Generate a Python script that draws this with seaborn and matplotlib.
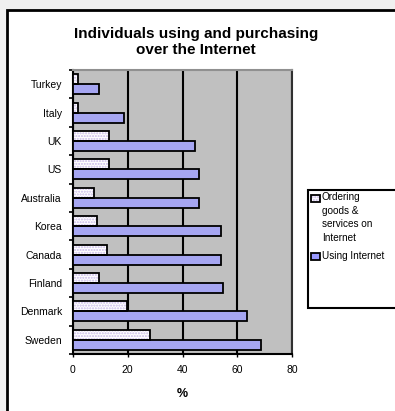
import matplotlib
matplotlib.use("Agg")
import matplotlib.pyplot as plt
from matplotlib.patches import Rectangle
import seaborn as sns
import pandas as pd
import numpy as np

# Survey data: share of individuals (%)
countries = ["Turkey", "Italy", "UK", "US", "Australia", "Korea",
             "Canada", "Finland", "Denmark", "Sweden"]
ordering = [1.8, 1.8, 13.1, 13.1, 7.8, 8.6, 12.5, 9.5, 19.6, 28.2]
using = [9.5, 18.7, 44.5, 46.1, 46.1, 54.0, 54.0, 54.7, 63.5, 68.5]
series = ["Ordering goods & services on Internet", "Using Internet"]
legend_labels = ["Ordering\ngoods &\nservices on\nInternet", "Using Internet"]
x_ticks = [0, 20, 40, 60, 80]

df = pd.DataFrame({
    "country": countries * 2,
    "value": ordering + using,
    "series": [series[0]] * len(countries) + [series[1]] * len(countries),
})

sns.set_theme(style="white")
plt.rcParams["font.family"] = ["Liberation Sans", "DejaVu Sans"]
plt.rcParams.update({"text.color": "black", "axes.labelcolor": "black",
                     "xtick.color": "black", "ytick.color": "black"})

W, H = 395, 411
fig = plt.figure(figsize=(W / 100, H / 100), dpi=100)
fig.patch.set_facecolor("#f0f0f0")

# white chart panel with black border
fig.patches.append(Rectangle((7 / W, -0.2), 1.2, 1 - 10 / H + 0.2,
                             transform=fig.transFigure, facecolor="white",
                             edgecolor="black", linewidth=2.0, zorder=-10))

ax = fig.add_axes([73 / W, 1 - 354 / H, (292 - 73) / W, (354 - 70) / H])
ax.set_zorder(5)
ax.set_facecolor("#c0c0c0")

blue = "#9999ff"
lav = "#c8b8e8"
sns.barplot(data=df, y="country", x="value", hue="series", order=countries,
            hue_order=series, orient="h", width=0.7, dodge=True,
            palette=["white", blue], edgecolor="black", linewidth=1.3,
            legend=False, ax=ax, zorder=3)

# dotted fill for the ordering bars, outline redrawn on top
for p in ax.containers[0]:
    p.set_edgecolor(lav)
    p.set_hatch("......")
    p.set_linewidth(0)
    ax.add_patch(Rectangle(p.get_xy(), p.get_width(), p.get_height(),
                           facecolor="none", edgecolor="black",
                           linewidth=1.3, zorder=4))

ax.set_xlim(0, 80)
ax.set_ylim(len(countries) - 0.5, -0.5)
ax.set_xticks(x_ticks)
ax.set_xticklabels([str(t) for t in x_ticks], fontsize=7.5)
ax.set_axisbelow(True)
ax.xaxis.grid(True, color="black", linewidth=1.5)
ax.yaxis.grid(False)

ax.set_yticks(range(len(countries)))
ax.set_yticklabels(countries, fontsize=7.5)
ax.set_yticks(np.arange(-0.5, len(countries), 1.0), minor=True)
ax.tick_params(axis="y", which="major", length=0, pad=8)
ax.tick_params(axis="y", which="minor", length=3, width=1.2, color="black",
               direction="out", left=True)
ax.tick_params(axis="x", length=2, width=1, color="black", bottom=True, pad=6)

ax.set_ylabel("")
ax.set_xlabel("%", fontsize=9, fontweight="bold", labelpad=9)

for side in ["left", "bottom"]:
    ax.spines[side].set_color("black")
    ax.spines[side].set_linewidth(1.5)
ax.spines["right"].set_color("#303030")
ax.spines["right"].set_linewidth(1.5)
ax.spines["top"].set_color("#909090")
ax.spines["top"].set_linewidth(1.5)

fig.text(196 / W, 1 - 42 / H, "Individuals using and purchasing\nover the Internet",
         ha="center", va="center", fontsize=11, fontweight="bold",
         linespacing=1.25)

# legend box
fig.patches.append(Rectangle((308 / W, 1 - 308 / H), 1.0, 118 / H,
                             transform=fig.transFigure, facecolor="white",
                             edgecolor="black", linewidth=1.5, zorder=1))
fig.patches.append(Rectangle((311 / W, 1 - 202 / H), 9 / W, 7 / H,
                             transform=fig.transFigure, facecolor="white",
                             edgecolor=lav, linewidth=0, hatch="......",
                             zorder=2))
fig.patches.append(Rectangle((311 / W, 1 - 202 / H), 9 / W, 7 / H,
                             transform=fig.transFigure, facecolor="none",
                             edgecolor="black", linewidth=1.3, zorder=3))
fig.patches.append(Rectangle((311 / W, 1 - 260 / H), 9 / W, 7 / H,
                             transform=fig.transFigure, facecolor=blue,
                             edgecolor="black", linewidth=1.3, zorder=2))
fig.text(322 / W, 1 - 192 / H, legend_labels[0], ha="left", va="top",
         fontsize=7.2, linespacing=1.45)
fig.text(322 / W, 1 - 251 / H, legend_labels[1], ha="left", va="top",
         fontsize=7.2)

fig.savefig("out.png", dpi=100, facecolor=fig.get_facecolor())
